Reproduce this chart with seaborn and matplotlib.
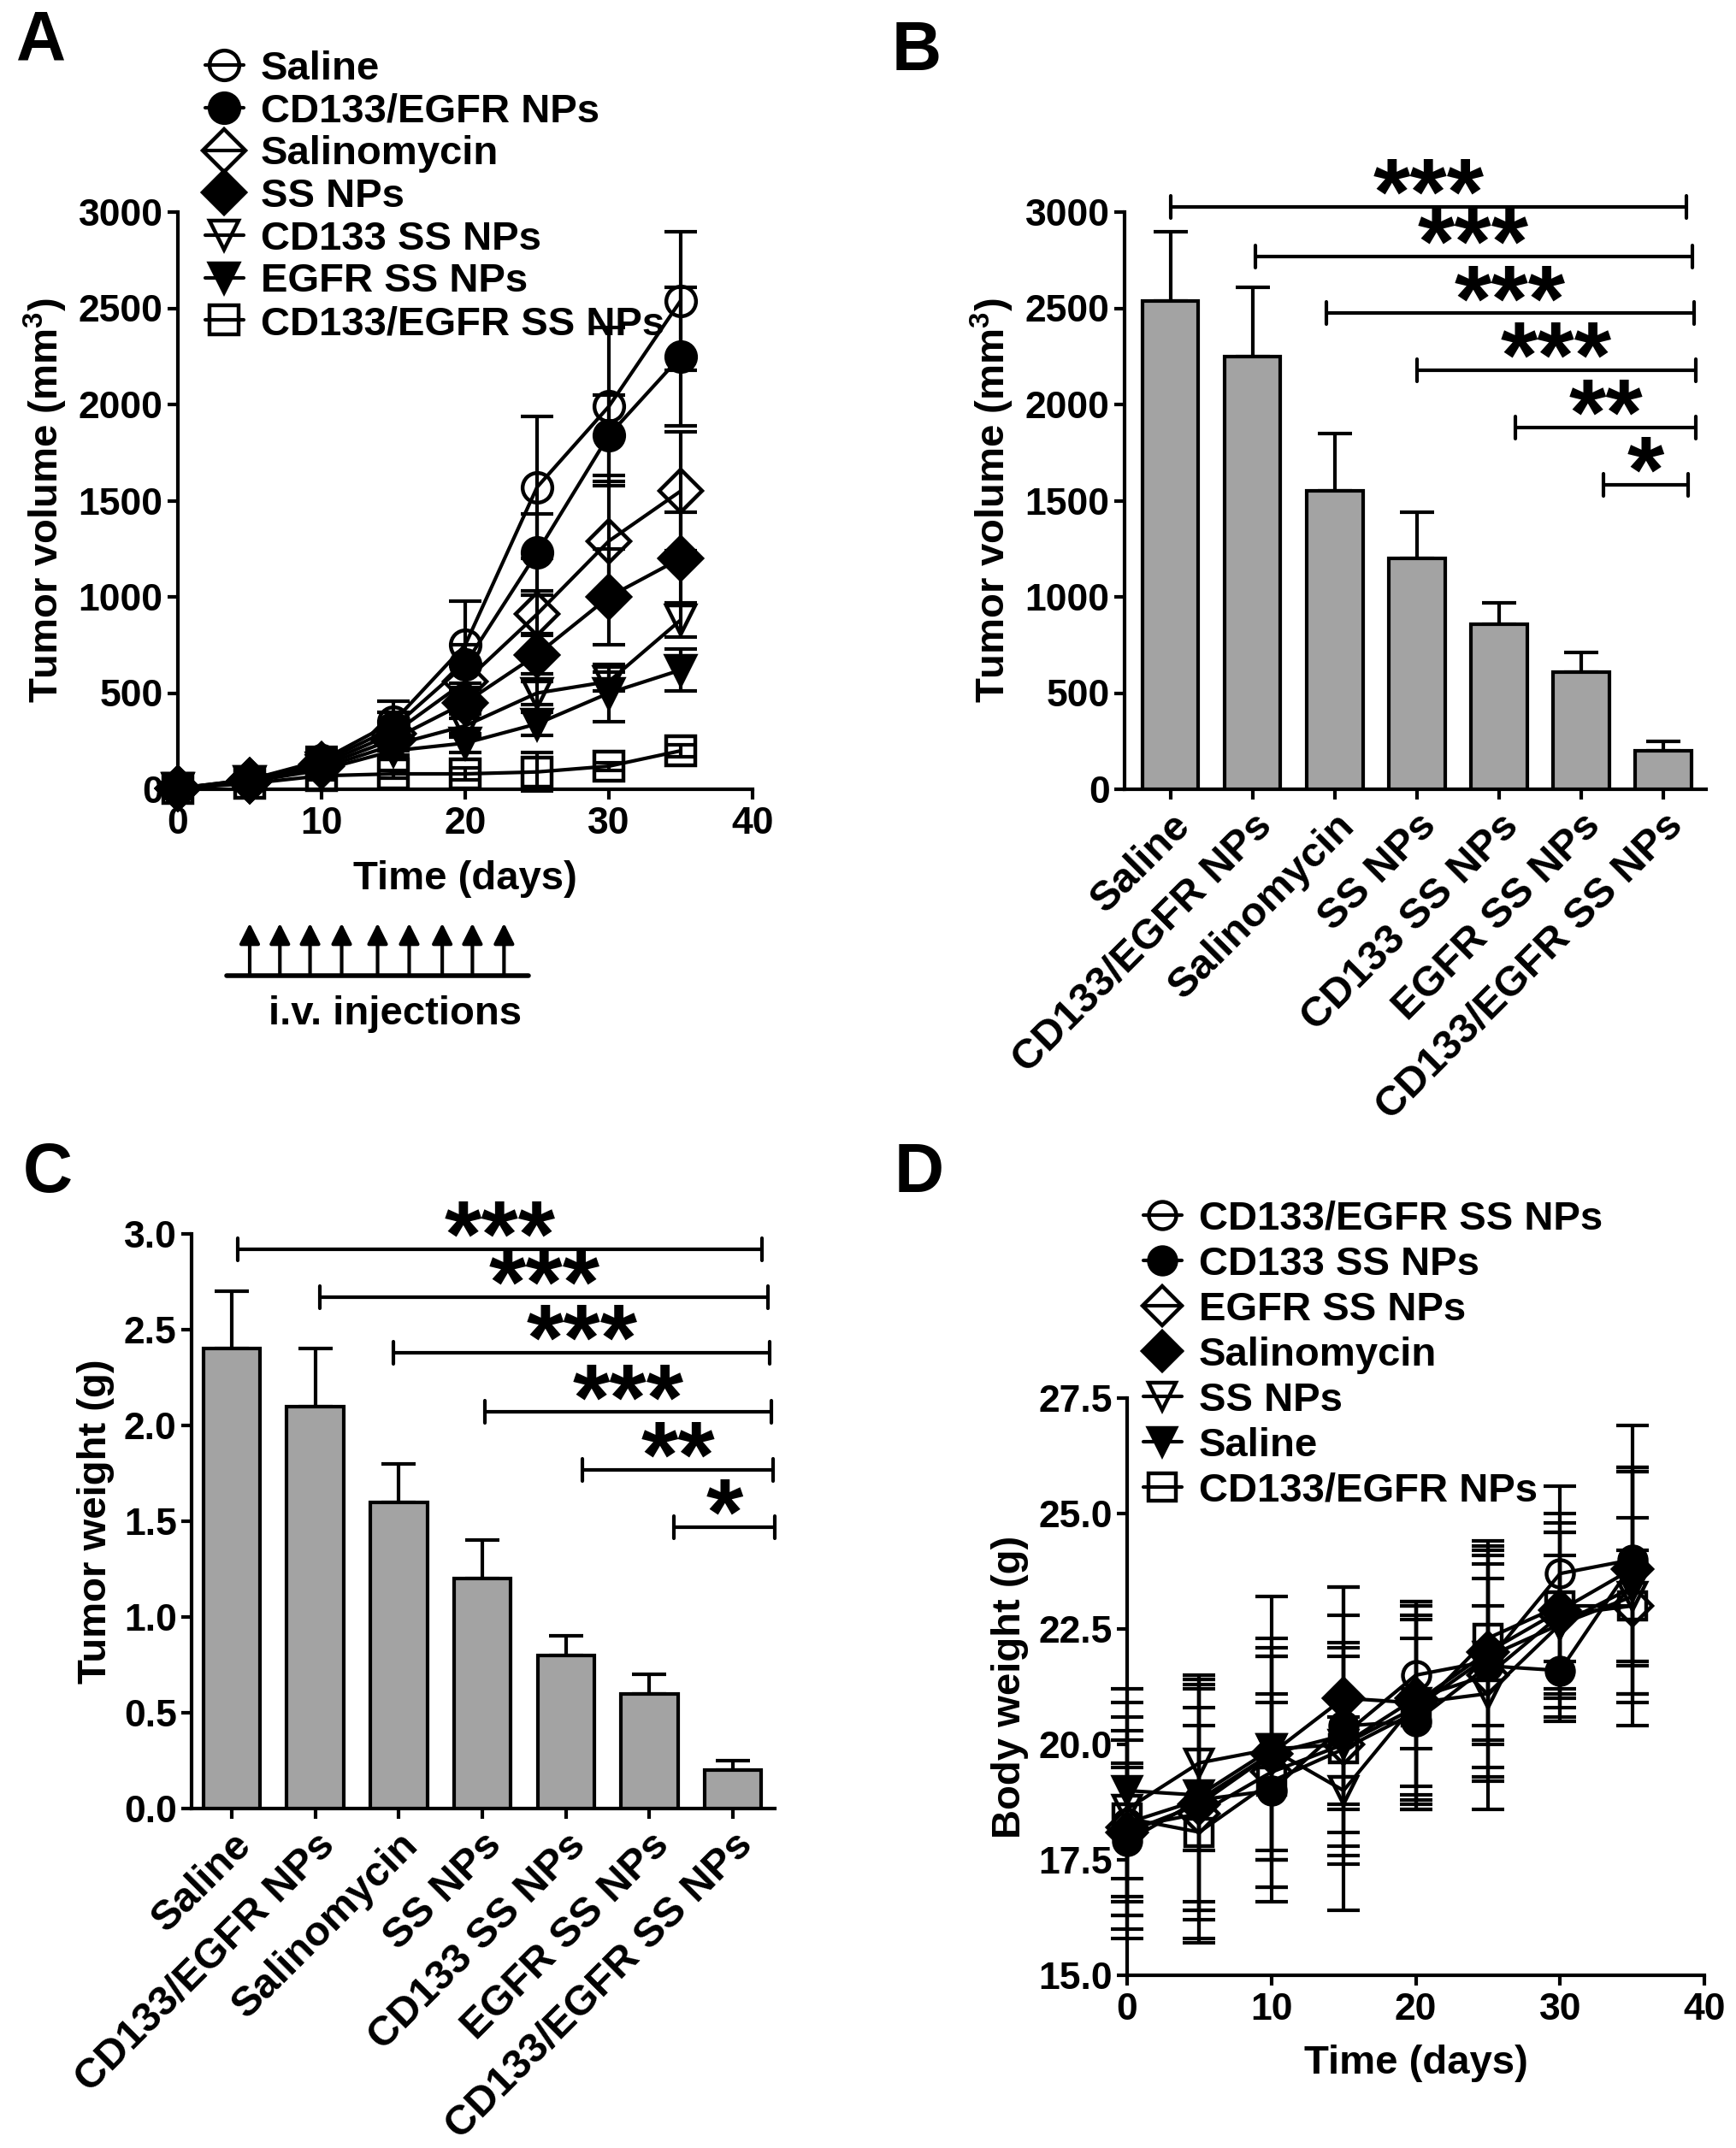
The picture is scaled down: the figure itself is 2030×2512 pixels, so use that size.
import numpy as np
import pandas as pd
import matplotlib
matplotlib.use('Agg')
import matplotlib.pyplot as plt
import matplotlib.transforms as mtransforms
import seaborn as sns

# ---- data ----
days = [0, 5, 10, 15, 20, 25, 30, 35]

# panel A: tumor volume (mm3), mean and sd
vol_names = ['Saline', 'CD133/EGFR NPs', 'Salinomycin', 'SS NPs',
             'CD133 SS NPs', 'EGFR SS NPs', 'CD133/EGFR SS NPs']
saline = [5, 50, 150, 350, 750, 1570, 1990, 2540]
cd_egfr_nps = [5, 50, 140, 320, 650, 1230, 1840, 2250]
salinomycin = [5, 45, 130, 290, 560, 910, 1290, 1550]
ss_nps = [5, 45, 120, 260, 450, 700, 1000, 1200]
cd133_ss = [5, 40, 110, 230, 330, 500, 560, 880]
egfr_ss = [5, 40, 100, 200, 240, 340, 500, 620]
cd_egfr_ss = [5, 30, 70, 80, 80, 90, 120, 200]
saline_sd = [5, 20, 70, 110, 230, 370, 410, 360]
cd_egfr_nps_sd = [5, 20, 60, 80, 100, 200, 210, 360]
salinomycin_sd = [5, 20, 50, 60, 80, 100, 310, 310]
ss_nps_sd = [5, 15, 50, 60, 80, 100, 250, 240]
cd133_ss_sd = [5, 15, 40, 50, 60, 60, 50, 90]
egfr_ss_sd = [5, 15, 40, 40, 50, 60, 150, 110]
cd_egfr_ss_sd = [5, 10, 20, 20, 30, 100, 20, 30]

injection_days = [5.0, 7.1, 9.2, 11.4, 13.9, 16.1, 18.4, 20.5, 22.7]

# panel B: final tumor volume
groups = ['Saline', 'CD133/EGFR NPs', 'Salinomycin', 'SS NPs',
          'CD133 SS NPs', 'EGFR SS NPs', 'CD133/EGFR SS NPs']
final_vol = [2540, 2250, 1550, 1200, 860, 610, 200]
final_vol_err = [360, 360, 300, 240, 110, 100, 50]
b_sig_start = [0, 1.03, 1.9, 3.0, 4.2, 5.27]
b_sig_end = [6.28, 6.35, 6.37, 6.39, 6.4, 6.3]
b_sig_y = [3027, 2769, 2474, 2179, 1882, 1583]
b_sig_text = ['***', '***', '***', '***', '**', '*']

# panel C: tumor weight (g)
weight = [2.4, 2.1, 1.6, 1.2, 0.8, 0.6, 0.2]
weight_err = [0.3, 0.3, 0.2, 0.2, 0.1, 0.1, 0.05]
c_sig_start = [0.07, 1.06, 1.94, 3.03, 4.2, 5.29]
c_sig_end = [6.35, 6.42, 6.44, 6.46, 6.48, 6.5]
c_sig_y = [2.92, 2.67, 2.38, 2.07, 1.77, 1.47]
c_sig_text = ['***', '***', '***', '***', '**', '*']

# panel D: body weight (g)
bw_names = ['CD133/EGFR SS NPs', 'CD133 SS NPs', 'EGFR SS NPs', 'Salinomycin',
            'SS NPs', 'Saline', 'CD133/EGFR NPs']
bw_1 = [18.3, 18.8, 19.8, 20.2, 21.5, 21.8, 23.7, 24.0]
bw_2 = [17.9, 18.8, 19.0, 20.4, 20.5, 21.7, 21.6, 23.9]
bw_3 = [18.2, 18.5, 19.4, 20.0, 21.0, 21.5, 22.8, 23.0]
bw_4 = [18.1, 18.7, 19.8, 21.0, 20.9, 22.0, 22.9, 23.8]
bw_5 = [18.6, 19.6, 19.9, 19.0, 20.9, 21.1, 22.6, 23.2]
bw_6 = [19.0, 18.9, 19.9, 20.0, 20.8, 21.9, 22.6, 23.4]
bw_7 = [18.4, 18.1, 19.2, 19.9, 20.7, 22.3, 23.0, 23.0]
bw_1_sd = [2.0, 2.6, 2.3, 2.6, 1.6, 2.6, 1.9, 2.9]
bw_2_sd = [1.6, 2.4, 2.1, 1.7, 1.8, 2.4, 1.1, 2.1]
bw_3_sd = [2.4, 2.8, 2.5, 1.9, 2.1, 1.5, 1.8, 1.2]
bw_4_sd = [1.5, 2.1, 2.1, 2.4, 2.1, 1.9, 2.1, 2.1]
bw_5_sd = [2.6, 1.9, 2.4, 1.6, 1.8, 2.5, 1.5, 2.8]
bw_6_sd = [1.9, 2.5, 3.3, 2.2, 2.2, 2.4, 2.0, 2.5]
bw_7_sd = [1.7, 2.3, 1.7, 3.5, 2.1, 1.9, 1.8, 1.9]

# marker per series (same sequence in A and D)
markers = ['o', 'o', 'D', 'D', 'v', 'v', 's']
filled = [False, True, False, True, False, True, False]

# ---- style ----
sns.set_style('ticks')
plt.rcParams['font.family'] = ['Liberation Sans', 'DejaVu Sans']
plt.rcParams['font.weight'] = 'bold'
plt.rcParams['axes.labelweight'] = 'bold'
plt.rcParams['mathtext.fontset'] = 'custom'
plt.rcParams['mathtext.rm'] = 'Liberation Sans:bold'
plt.rcParams['mathtext.default'] = 'rm'
plt.rcParams['axes.linewidth'] = 3
plt.rcParams['xtick.major.width'] = 3
plt.rcParams['ytick.major.width'] = 3
plt.rcParams['xtick.major.size'] = 8.5
plt.rcParams['ytick.major.size'] = 8.5
plt.rcParams['xtick.major.pad'] = 6
plt.rcParams['ytick.major.pad'] = 4
plt.rcParams['xtick.labelsize'] = 32
plt.rcParams['ytick.labelsize'] = 32
plt.rcParams['axes.labelsize'] = 34
for key in ['text.color', 'axes.labelcolor', 'xtick.color', 'ytick.color',
            'axes.edgecolor', 'xtick.labelcolor', 'ytick.labelcolor']:
    plt.rcParams[key] = 'black'

W, H = 2031, 2512
fig = plt.figure(figsize=(W / 100, H / 100), dpi=100)


def px_axes(left, right, top, bottom):
    return fig.add_axes([left / W, 1 - bottom / H, (right - left) / W, (bottom - top) / H])


axA = px_axes(208, 880, 248, 923)
axB = px_axes(1315, 1995, 248, 923)
axC = px_axes(224, 906, 1443, 2115)
axD = px_axes(1318, 1993, 1635, 2310)

for ax in [axA, axB, axC, axD]:
    sns.despine(ax=ax)


def growth_panel(ax, names, means, sds, msize):
    for i, (name, m, s) in enumerate(zip(names, means, sds)):
        ax.errorbar(days, m, yerr=s, fmt='none', ecolor='black', elinewidth=3,
                    capsize=14, capthick=3, clip_on=False, zorder=2)
        sns.lineplot(x=days, y=m, ax=ax, color='black', linewidth=3, label=name,
                     marker=markers[i], markersize=msize, markeredgewidth=3.2,
                     markeredgecolor='black',
                     markerfacecolor='black' if filled[i] else 'none',
                     clip_on=False, zorder=3)


# ---- panel A ----
growth_panel(axA, vol_names,
             [saline, cd_egfr_nps, salinomycin, ss_nps, cd133_ss, egfr_ss, cd_egfr_ss],
             [saline_sd, cd_egfr_nps_sd, salinomycin_sd, ss_nps_sd, cd133_ss_sd,
              egfr_ss_sd, cd_egfr_ss_sd], 25)
axA.set_xlim(0, 40)
axA.set_ylim(0, 3000)
axA.set_xticks([0, 10, 20, 30, 40])
axA.set_yticks(np.arange(0, 3001, 500))
axA.set_xlabel('Time (days)', labelpad=16)
axA.set_ylabel('Tumor volume (mm$^3$)', labelpad=8)
axA.legend(loc='upper left', bbox_to_anchor=(240 / W, 1 - 59 / H),
           bbox_transform=fig.transFigure, frameon=False, fontsize=34,
           handlelength=0.95, handletextpad=0.42, labelspacing=0.12,
           borderpad=0, borderaxespad=0)

# injection arrows under panel A
trans = mtransforms.blended_transform_factory(axA.transData, axA.transAxes)
axA.plot([3.4, 24.4], [-0.323, -0.323], color='black', lw=4, transform=trans,
         clip_on=False, solid_capstyle='round')
for d in injection_days:
    axA.annotate('', xy=(d, -0.232), xytext=(d, -0.323), xycoords=trans,
                 textcoords=trans, annotation_clip=False,
                 arrowprops=dict(arrowstyle='-|>,head_length=0.6,head_width=0.3',
                                 lw=3, color='black', mutation_scale=24,
                                 shrinkA=0, shrinkB=0))
axA.text(15.1, -0.39, 'i.v. injections', transform=trans, ha='center', va='center',
         fontsize=34, fontweight='bold')


# ---- bar panels ----
def bar_panel(ax, vals, errs, s_start, s_end, s_y, s_text, cap_h):
    df = pd.DataFrame({'group': groups, 'value': vals})
    sns.barplot(data=df, x='group', y='value', color='#a3a3a3', saturation=1,
                edgecolor='black', linewidth=3, width=0.68, errorbar=None, ax=ax,
                zorder=3)
    ax.errorbar(range(len(vals)), vals, yerr=[np.zeros(len(vals)), errs], fmt='none',
                ecolor='black', elinewidth=3, capsize=14.5, capthick=3, zorder=2)
    for x0, x1, y, t in zip(s_start, s_end, s_y, s_text):
        ax.plot([x0, x1], [y, y], color='black', lw=3, clip_on=False)
        ax.plot([x0, x0], [y - cap_h, y + cap_h], color='black', lw=3, clip_on=False)
        ax.plot([x1, x1], [y - cap_h, y + cap_h], color='black', lw=3, clip_on=False)
        ax.annotate(t, xy=((x0 + x1) / 2, y), xytext=(0, -15), textcoords='offset points',
                    ha='center', va='baseline', fontsize=80, fontweight='bold',
                    color='black', annotation_clip=False)
    ax.set_xlabel('')
    for lab in ax.get_xticklabels():
        lab.set_rotation(45)
        lab.set_ha('right')
        lab.set_rotation_mode('anchor')
        lab.set_fontsize(35)


bar_panel(axB, final_vol, final_vol_err, b_sig_start, b_sig_end, b_sig_y, b_sig_text, 58)
axB.set_xlim(-0.56, 6.52)
axB.set_ylim(0, 3000)
axB.set_yticks(np.arange(0, 3001, 500))
axB.set_ylabel('Tumor volume (mm$^3$)', labelpad=8)

bar_panel(axC, weight, weight_err, c_sig_start, c_sig_end, c_sig_y, c_sig_text, 0.058)
axC.set_xlim(-0.48, 6.5)
axC.set_ylim(0, 3.0)
axC.set_yticks(np.arange(0, 3.01, 0.5))
axC.yaxis.set_major_formatter('{x:.1f}')
axC.set_ylabel('Tumor weight (g)', labelpad=8)

# ---- panel D ----
growth_panel(axD, bw_names, [bw_1, bw_2, bw_3, bw_4, bw_5, bw_6, bw_7],
             [bw_1_sd, bw_2_sd, bw_3_sd, bw_4_sd, bw_5_sd, bw_6_sd, bw_7_sd], 23)
axD.set_xlim(0, 40)
axD.set_ylim(15, 27.5)
axD.set_xticks([0, 10, 20, 30, 40])
axD.set_yticks(np.arange(15, 27.6, 2.5))
axD.yaxis.set_major_formatter('{x:.1f}')
axD.set_xlabel('Time (days)', labelpad=14)
axD.set_ylabel('Body weight (g)', labelpad=8)
axD.legend(loc='upper left', bbox_to_anchor=(1337 / W, 1 - 1404 / H),
           bbox_transform=fig.transFigure, frameon=False, fontsize=34,
           handlelength=0.95, handletextpad=0.42, labelspacing=0.19,
           borderpad=0, borderaxespad=0)

# panel letters
for letter, x, y in [('A', 48, 48), ('B', 1072, 61), ('C', 56, 1373), ('D', 1075, 1373)]:
    fig.text(x / W, 1 - y / H, letter, fontsize=58, fontweight='bold',
             ha='center', va='center')

fig.savefig('out.png', dpi=100, facecolor='white')
